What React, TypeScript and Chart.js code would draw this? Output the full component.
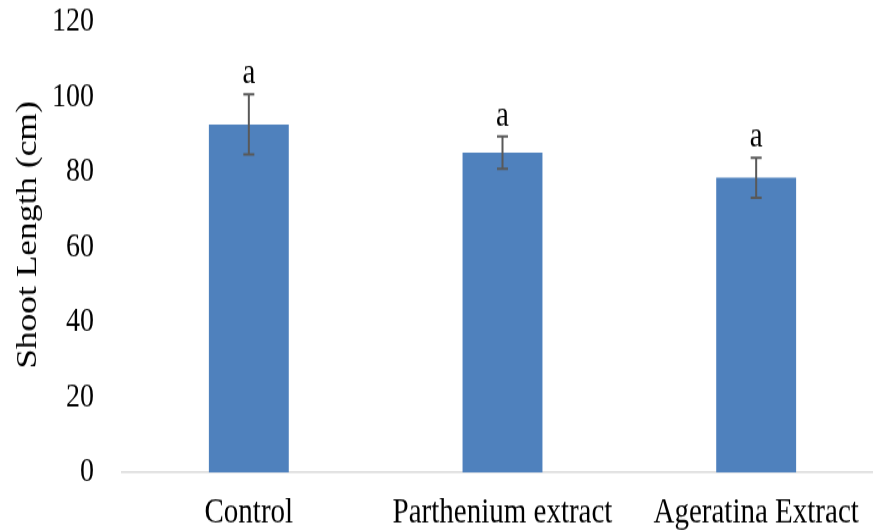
import React, { useEffect, useRef } from "react";
import { Chart, registerables } from "chart.js";

Chart.register(...registerables);

const categories = ["Control", "Parthenium extract", "Ageratina Extract"];
const shootLength = [92.7, 85.2, 78.5];
const standardError = [8.0, 4.3, 5.3];
const significanceLetters = ["a", "a", "a"];
const yTicks = [0, 20, 40, 60, 80, 100, 120];
const yAxisTitle = "Shoot Length (cm)";

const SERIF = '"Liberation Serif", "Times New Roman", serif';
const BAR_COLOR = "#4f81bd";
const ERR_COLOR = "#595959";

// canvas is drawn at a shorter height and stretched vertically to fill the frame
const FRAME_W = 873;
const FRAME_H = 531;
const CANVAS_W = 893;
const CANVAS_H = 435;
const STRETCH = FRAME_H / CANVAS_H;

const errorBarPlugin = {
  id: "errorBars",
  afterDatasetsDraw(chart: any) {
    const { ctx } = chart;
    const meta = chart.getDatasetMeta(0);
    const y = chart.scales.y;
    ctx.save();
    meta.data.forEach((bar: any, i: number) => {
      const x = bar.x;
      const hi = y.getPixelForValue(shootLength[i] + standardError[i]);
      const lo = y.getPixelForValue(shootLength[i] - standardError[i]);
      const cap = 5.5;
      ctx.strokeStyle = ERR_COLOR;
      ctx.lineWidth = 2;
      ctx.beginPath();
      ctx.moveTo(x, hi);
      ctx.lineTo(x, lo);
      ctx.moveTo(x - cap, hi);
      ctx.lineTo(x + cap, hi);
      ctx.moveTo(x - cap, lo);
      ctx.lineTo(x + cap, lo);
      ctx.stroke();

      ctx.fillStyle = "#000";
      ctx.font = `29px ${SERIF}`;
      ctx.textAlign = "center";
      ctx.textBaseline = "alphabetic";
      ctx.fillText(significanceLetters[i], x, hi - 9);
    });
    ctx.restore();
  },
};

// rotated y-axis title, placed left of the tick labels
const axisTitlePlugin = {
  id: "yAxisTitle",
  afterDraw(chart: any) {
    const { ctx, chartArea } = chart;
    ctx.save();
    ctx.translate(28, (chartArea.top + chartArea.bottom) / 2 - 10);
    ctx.rotate(-Math.PI / 2);
    ctx.fillStyle = "#000";
    ctx.font = `29px ${SERIF}`;
    ctx.textAlign = "center";
    ctx.textBaseline = "middle";
    ctx.fillText(yAxisTitle, 0, 0);
    ctx.restore();
  },
};

export default function App() {
  const canvasRef = useRef<HTMLCanvasElement | null>(null);

  useEffect(() => {
    if (!canvasRef.current) return;
    const chart = new Chart(canvasRef.current, {
      type: "bar",
      data: {
        labels: categories,
        datasets: [
          {
            data: shootLength,
            backgroundColor: BAR_COLOR,
            borderWidth: 0,
            barPercentage: 0.315,
            categoryPercentage: 1,
          },
        ],
      },
      options: {
        animation: false,
        responsive: false,
        devicePixelRatio: 1,
        layout: { padding: { left: 0, right: 10, top: 18, bottom: 0 } },
        plugins: {
          legend: { display: false },
          tooltip: { enabled: false },
        },
        scales: {
          x: {
            grid: { display: false, drawTicks: false },
            border: { display: true, color: "#d9d9d9", width: 1.6 },
            ticks: {
              color: "#000",
              font: { family: SERIF, size: 29 },
              padding: 16,
              maxRotation: 0,
              autoSkip: false,
            },
            afterFit(scale: any) {
              scale.height = 48;
            },
          },
          y: {
            min: 0,
            max: 120,
            afterBuildTicks(scale: any) {
              scale.ticks = yTicks.map((v) => ({ value: v }));
            },
            grid: { display: false, drawTicks: false },
            border: { display: false },
            ticks: {
              color: "#000",
              font: { family: SERIF, size: 28 },
              padding: 28,
            },
            afterFit(scale: any) {
              scale.width = 122;
              scale.paddingTop = 0;
              scale.paddingBottom = 0;
            },
          },
        },
      },
      plugins: [errorBarPlugin, axisTitlePlugin],
    });
    return () => chart.destroy();
  }, []);

  return (
    <div
      style={{
        position: "absolute",
        left: 0,
        top: 0,
        width: FRAME_W,
        height: FRAME_H,
        overflow: "hidden",
        background: "#fff",
      }}
    >
      <canvas
        ref={canvasRef}
        width={CANVAS_W}
        height={CANVAS_H}
        style={{
          display: "block",
          transform: `scaleY(${STRETCH})`,
          transformOrigin: "0 0",
        }}
      />
    </div>
  );
}
